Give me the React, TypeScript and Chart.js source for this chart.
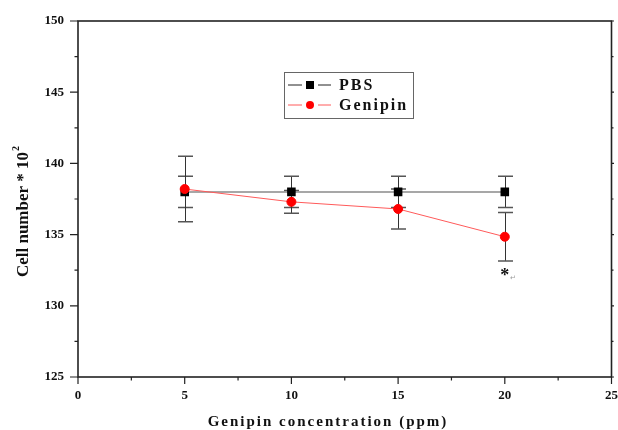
import React, { useEffect, useRef } from "react";
import { Chart, registerables } from "chart.js";

Chart.register(...registerables);

const concentrations = [5, 10, 15, 20];
const pbsMean = [138.0, 138.0, 138.0, 138.0];
const pbsErr = [1.1, 1.1, 1.1, 1.1];
const genipinMean = [138.2, 137.3, 136.8, 134.85];
const genipinErr = [2.3, 0.8, 1.4, 1.7];
const seriesLabels = ["PBS", "Genipin"];
const xTicks = [0, 5, 10, 15, 20, 25];
const xMinorTicks = [2.5, 7.5, 12.5, 17.5, 22.5];
const yTicks = [125, 130, 135, 140, 145, 150];
const yMinorTicks = [127.5, 132.5, 137.5, 142.5, 147.5];
const xTitle = "Genipin concentration (ppm)";
const yTitle = "Cell number * 10";
const significance = [{ x: 20, y: 132.35, text: "*" }];

const FONT = '"Liberation Serif", "Times New Roman", serif';

const customPlugin = {
  id: "custom",
  beforeDatasetsDraw(chart: any) {
    const ctx = chart.ctx;
    const xs = chart.scales.x;
    const ys = chart.scales.y;
    const drawErr = (means: number[], errs: number[]) => {
      concentrations.forEach((c, i) => {
        const px = Math.round(xs.getPixelForValue(c)) + 0.5;
        const top = ys.getPixelForValue(means[i] + errs[i]);
        const bot = ys.getPixelForValue(means[i] - errs[i]);
        ctx.save();
        ctx.strokeStyle = "#333";
        ctx.lineWidth = 1;
        ctx.beginPath();
        ctx.moveTo(px, top);
        ctx.lineTo(px, bot);
        ctx.stroke();
        ctx.strokeStyle = "#555";
        ctx.lineWidth = 1.5;
        ctx.beginPath();
        ctx.moveTo(px - 7.5, top);
        ctx.lineTo(px + 7.5, top);
        ctx.moveTo(px - 7.5, bot);
        ctx.lineTo(px + 7.5, bot);
        ctx.stroke();
        ctx.restore();
      });
    };
    drawErr(pbsMean, pbsErr);
    drawErr(genipinMean, genipinErr);
  },
  afterDraw(chart: any) {
    const ctx = chart.ctx;
    const xs = chart.scales.x;
    const ys = chart.scales.y;
    const a = chart.chartArea;
    ctx.save();
    // frame
    ctx.strokeStyle = "#222";
    ctx.lineWidth = 1.6;
    ctx.strokeRect(a.left, a.top, a.right - a.left, a.bottom - a.top);
    // ticks
    ctx.lineWidth = 1.2;
    ctx.beginPath();
    xTicks.forEach((t) => {
      const p = xs.getPixelForValue(t);
      ctx.moveTo(p, a.bottom);
      ctx.lineTo(p, a.bottom + 7);
    });
    xMinorTicks.forEach((t) => {
      const p = xs.getPixelForValue(t);
      ctx.moveTo(p, a.bottom);
      ctx.lineTo(p, a.bottom + 3.5);
    });
    yTicks.forEach((t) => {
      const p = ys.getPixelForValue(t);
      ctx.moveTo(a.left, p);
      ctx.lineTo(a.left - 8, p);
      ctx.moveTo(a.right, p);
      ctx.lineTo(a.right + 2.5, p);
    });
    yMinorTicks.forEach((t) => {
      const p = ys.getPixelForValue(t);
      ctx.moveTo(a.left, p);
      ctx.lineTo(a.left - 3.5, p);
      ctx.moveTo(a.right, p);
      ctx.lineTo(a.right + 2, p);
    });
    ctx.stroke();
    // tick labels
    ctx.fillStyle = "#111";
    ctx.font = `bold 13px ${FONT}`;
    ctx.textAlign = "center";
    ctx.textBaseline = "top";
    xTicks.forEach((t) => {
      ctx.fillText(String(t), xs.getPixelForValue(t), a.bottom + 12);
    });
    ctx.textAlign = "right";
    ctx.textBaseline = "middle";
    yTicks.forEach((t) => {
      ctx.fillText(String(t), a.left - 14, ys.getPixelForValue(t));
    });
    // x title
    ctx.font = `bold 15px ${FONT}`;
    ctx.textAlign = "center";
    ctx.textBaseline = "alphabetic";
    (ctx as any).letterSpacing = "2px";
    ctx.fillText(xTitle, 328, 426);
    (ctx as any).letterSpacing = "0px";
    // y title
    ctx.save();
    ctx.translate(28, 212);
    ctx.rotate(-Math.PI / 2);
    ctx.font = `bold 17px ${FONT}`;
    const w1 = ctx.measureText(yTitle).width;
    ctx.font = `bold 10px ${FONT}`;
    const w2 = ctx.measureText("2").width;
    const start = -(w1 + w2) / 2;
    ctx.textAlign = "left";
    ctx.font = `bold 17px ${FONT}`;
    ctx.fillText(yTitle, start, 0);
    ctx.font = `bold 10px ${FONT}`;
    ctx.fillText("2", start + w1 + 1, -9);
    ctx.restore();
    // legend
    const lx = 284, ly = 72, lw = 129, lh = 46;
    ctx.strokeStyle = "#666";
    ctx.lineWidth = 1;
    ctx.strokeRect(lx + 0.5, ly + 0.5, lw, lh);
    const rows = [
      { y: ly + 13, line: "#222", mark: "#000", square: true },
      { y: ly + 33, line: "#ff5a5a", mark: "#ff0000", square: false },
    ];
    rows.forEach((r, i) => {
      ctx.strokeStyle = r.line;
      ctx.lineWidth = 1;
      ctx.beginPath();
      ctx.moveTo(lx + 4, r.y);
      ctx.lineTo(lx + 18, r.y);
      ctx.moveTo(lx + 34, r.y);
      ctx.lineTo(lx + 47, r.y);
      ctx.stroke();
      ctx.fillStyle = r.mark;
      if (r.square) {
        ctx.fillRect(lx + 22, r.y - 4, 8, 8);
      } else {
        ctx.beginPath();
        ctx.arc(lx + 26, r.y, 4, 0, Math.PI * 2);
        ctx.fill();
      }
      ctx.fillStyle = "#111";
      ctx.font = `bold 16px ${FONT}`;
      ctx.textAlign = "left";
      ctx.textBaseline = "middle";
      (ctx as any).letterSpacing = "2px";
      ctx.fillText(seriesLabels[i], lx + 55, r.y + 1);
      (ctx as any).letterSpacing = "0px";
    });
    // significance marks
    significance.forEach((s) => {
      const px = xs.getPixelForValue(s.x);
      const py = ys.getPixelForValue(s.y);
      ctx.fillStyle = "#111";
      ctx.font = `bold 18px ${FONT}`;
      ctx.textAlign = "center";
      ctx.textBaseline = "middle";
      ctx.fillText(s.text, px, py + 4);
      ctx.fillStyle = "#999";
      ctx.font = `7px ${FONT}`;
      ctx.fillText("\u21B5", px + 8, py + 6);
    });
    ctx.restore();
  },
};

export default function App() {
  const ref = useRef<HTMLCanvasElement | null>(null);
  useEffect(() => {
    document.body.style.margin = "0";
    const canvas = ref.current;
    if (!canvas) return;
    const chart = new Chart(canvas, {
      type: "line",
      data: {
        datasets: [
          {
            label: seriesLabels[1],
            data: concentrations.map((c, i) => ({ x: c, y: genipinMean[i] })),
            borderColor: "#ff5a5a",
            borderWidth: 1,
            backgroundColor: "#ff0000",
            pointBackgroundColor: "#ff0000",
            pointBorderColor: "#ff0000",
            pointRadius: 4.5,
            pointStyle: "circle",
            order: 0,
          },
          {
            label: seriesLabels[0],
            data: concentrations.map((c, i) => ({ x: c, y: pbsMean[i] })),
            borderColor: "#8a8a8a",
            borderWidth: 1.5,
            backgroundColor: "#000",
            pointBackgroundColor: "#000",
            pointBorderColor: "#000",
            pointRadius: 5,
            pointStyle: "rect",
            order: 1,
          },
        ],
      },
      options: {
        animation: false,
        responsive: false,
        devicePixelRatio: 1,
        layout: { padding: { left: 78, right: 6, top: 21, bottom: 53 } },
        plugins: { legend: { display: false }, tooltip: { enabled: false } },
        scales: {
          x: { type: "linear", min: 0, max: 25, display: false },
          y: { type: "linear", min: 125, max: 150, display: false },
        },
      },
      plugins: [customPlugin],
    } as any);
    return () => chart.destroy();
  }, []);
  return (
    <div style={{ width: 618, height: 430, background: "#fff" }}>
      <canvas ref={ref} width={618} height={430} />
    </div>
  );
}
